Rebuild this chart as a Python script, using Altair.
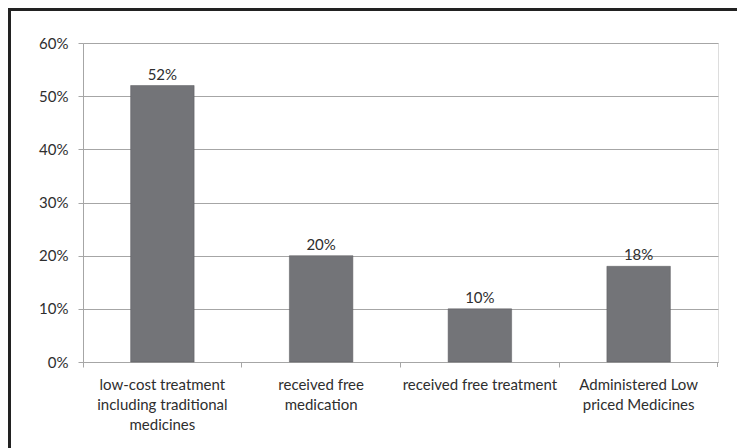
import altair as alt
import pandas as pd

categories = [
    "low-cost treatment\nincluding traditional\nmedicines",
    "received free\nmedication",
    "received free treatment",
    "Administered Low\npriced Medicines",
]
values = [0.52, 0.20, 0.10, 0.18]
value_labels = ["52%", "20%", "10%", "18%"]

df = pd.DataFrame({"cat": categories, "val": values, "lab": value_labels})

W, H = 635, 319
FONT = "Lato"
FS = 15
TXT = "#2e2e2e"
GRID = "#a6a6a6"

x_enc = alt.X(
    "cat:N",
    sort=categories,
    title=None,
    scale=alt.Scale(paddingInner=0, paddingOuter=0),
    axis=alt.Axis(
        labelAngle=0,
        labelExpr="split(datum.label, '\\n')",
        labelLineHeight=20,
        labelFont=FONT,
        labelFontSize=FS,
        labelColor=TXT,
        labelPadding=10,
        labelLimit=300,
        bandPosition=0,
        tickSize=5,
        tickColor=GRID,
        domainColor=GRID,
        grid=False,
    ),
)

y_enc = alt.Y(
    "val:Q",
    title=None,
    scale=alt.Scale(domain=[0, 0.6], nice=False),
    axis=alt.Axis(
        values=[0, 0.1, 0.2, 0.3, 0.4, 0.5, 0.6],
        format=".0%",
        labelFont=FONT,
        labelFontSize=FS,
        labelColor=TXT,
        labelPadding=10,
        tickSize=5,
        tickColor=GRID,
        domainColor=GRID,
        gridColor=GRID,
        grid=True,
    ),
)

bars = alt.Chart(df).mark_bar(
    width=alt.RelativeBandSize(0.4),
    color="#737478",
    stroke="#5a5b5e",
    strokeWidth=0.5,
).encode(x=x_enc, y=y_enc)

text = alt.Chart(df).mark_text(
    dy=-11, font=FONT, fontSize=FS, color=TXT
).encode(
    x=alt.X("cat:N", sort=categories),
    y=alt.Y("val:Q"),
    text="lab:N",
)

end_tick = alt.Chart(df).mark_rule(color=GRID).encode(
    x=alt.value(W - 0.5), y=alt.value(H), y2=alt.value(H + 5)
)

frame_left = alt.Chart(df).mark_rule(color="#222222", strokeWidth=3).encode(
    x=alt.value(-73.5), y=alt.value(-35), y2=alt.value(H + 86)
)
frame_top = alt.Chart(df).mark_rule(color="#222222", strokeWidth=3).encode(
    y=alt.value(-33.5), x=alt.value(-75), x2=alt.value(W + 19)
)

chart = alt.layer(bars, text, end_tick, frame_left, frame_top).properties(
    width=W,
    height=H,
    autosize=alt.AutoSizeParams(type="none"),
    padding={"left": 83, "top": 43, "right": 19, "bottom": 86},
).configure_view(stroke=None).configure(background="white")

chart.save("out.html", embed_options={"renderer": "svg", "actions": False})
